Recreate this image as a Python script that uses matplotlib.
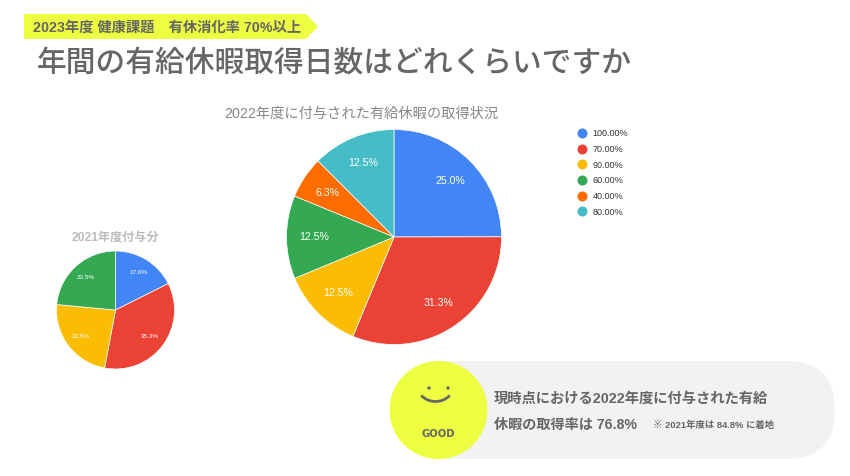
import matplotlib
matplotlib.use("Agg")
from matplotlib import pyplot as plt
from matplotlib.lines import Line2D
from matplotlib.patches import Circle, FancyBboxPatch, Polygon, Arc

plt.rcParams['font.family'] = ['Liberation Sans', 'Noto Sans CJK JP', 'DejaVu Sans']

# datos de los dos pasteles
labels_2022 = ['100.00%', '70.00%', '90.00%', '60.00%', '40.00%', '80.00%']
values_2022 = [25.0, 31.3, 12.5, 12.5, 6.3, 12.5]
colors_2022 = ['#4285F4', '#EA4335', '#FBBC04', '#34A853', '#FF6D01', '#46BDC6']

values_2021 = [17.6, 35.3, 23.5, 23.5]
colors_2021 = ['#4285F4', '#EA4335', '#FBBC04', '#34A853']

banner_text = '2023年度 健康課題　有休消化率 70%以上'
main_title = '年間の有給休暇取得日数はどれくらいですか'
title_2022 = '2022年度に付与された有給休暇の取得状況'
title_2021 = '2021年度付与分'
result_line1 = '現時点における2022年度に付与された有給'
result_line2 = '休暇の取得率は 76.8%'
result_note = '※ 2021年度は 84.8% に着地'

W, H = 850, 476
YELLOW = '#EEFF41'
GREY = '#666666'

fig = plt.figure(figsize=(W / 100, H / 100), dpi=100, facecolor='white')

# capa de fondo en pixeles
bg = fig.add_axes([0, 0, 1, 1])
bg.set_xlim(0, W)
bg.set_ylim(H, 0)
bg.axis('off')


def draw_pie(values, colors, cx, cy, r, fontsize):
    ax = fig.add_axes([(cx - r) / W, 1 - (cy + r) / H, 2 * r / W, 2 * r / H])
    wedges, texts = ax.pie(values, colors=colors, startangle=90, counterclock=False,
                           labels=[f'{v:.1f}%' for v in values], labeldistance=0.74,
                           wedgeprops={'edgecolor': 'white', 'linewidth': 0.5},
                           textprops={'color': 'white', 'fontsize': fontsize})
    for t in texts:
        t.set_ha('center')
        t.set_va('center')
    ax.set_xlim(-1, 1)
    ax.set_ylim(-1, 1)
    return wedges


draw_pie(values_2022, colors_2022, 394, 237, 107.5, 7.6)
draw_pie(values_2021, colors_2021, 115.5, 310, 59, 4.6)

# banda amarilla
bg.add_patch(Polygon([(24, 14), (306, 14), (318, 26.5), (306, 39), (24, 39)],
                     facecolor=YELLOW, edgecolor='none'))
bg.text(33, 27.5, banner_text, fontsize=10.3, fontweight='bold', color=GREY, va='center')
bg.text(37, 64, main_title, fontsize=21.4, fontweight='medium', color=GREY, va='center')

bg.text(361.5, 114, title_2022, fontsize=10.3, color='#888888', ha='center', va='center')
bg.text(115, 238, title_2021, fontsize=8.7, fontweight='bold', color='#BBBBBB', ha='center', va='center')

# leyenda
handles = [Line2D([], [], linestyle='none', marker='o', markersize=6.2, color=c) for c in colors_2022]
fig.legend(handles, labels_2022, loc='upper left', bbox_to_anchor=(568 / W, 1 - 122 / H),
           frameon=False, fontsize=6.5, labelspacing=0.74, handletextpad=0.3, handlelength=1.6,
           borderpad=0.3, labelcolor='#333333')

# caja de resultado
bg.add_patch(FancyBboxPatch((395, 361), 440, 98, boxstyle='round,pad=0,rounding_size=49',
                            facecolor='#F2F2F2', edgecolor='none'))
bg.add_patch(Circle((438.5, 410), 49, facecolor=YELLOW, edgecolor='none'))
bg.add_patch(Circle((429, 388), 1.7, facecolor=GREY, edgecolor='none'))
bg.add_patch(Circle((448, 388), 1.7, facecolor=GREY, edgecolor='none'))
bg.add_patch(Arc((435.5, 383.5), 38, 36, theta1=40, theta2=140, color=GREY, linewidth=2))
bg.text(438.5, 434, 'GOOD', fontsize=8, fontweight='bold', stretch='condensed', color=GREY,
        ha='center', va='center', family=['DejaVu Sans'])

bg.text(494, 398.5, result_line1, fontsize=10.3, fontweight='bold', color=GREY, va='center')
bg.text(494, 425, result_line2, fontsize=10.2, fontweight='bold', color=GREY, va='center')
bg.text(653, 425.5, result_note, fontsize=6.75, fontweight='bold', color=GREY, va='center')

fig.savefig('out.png', dpi=100)
